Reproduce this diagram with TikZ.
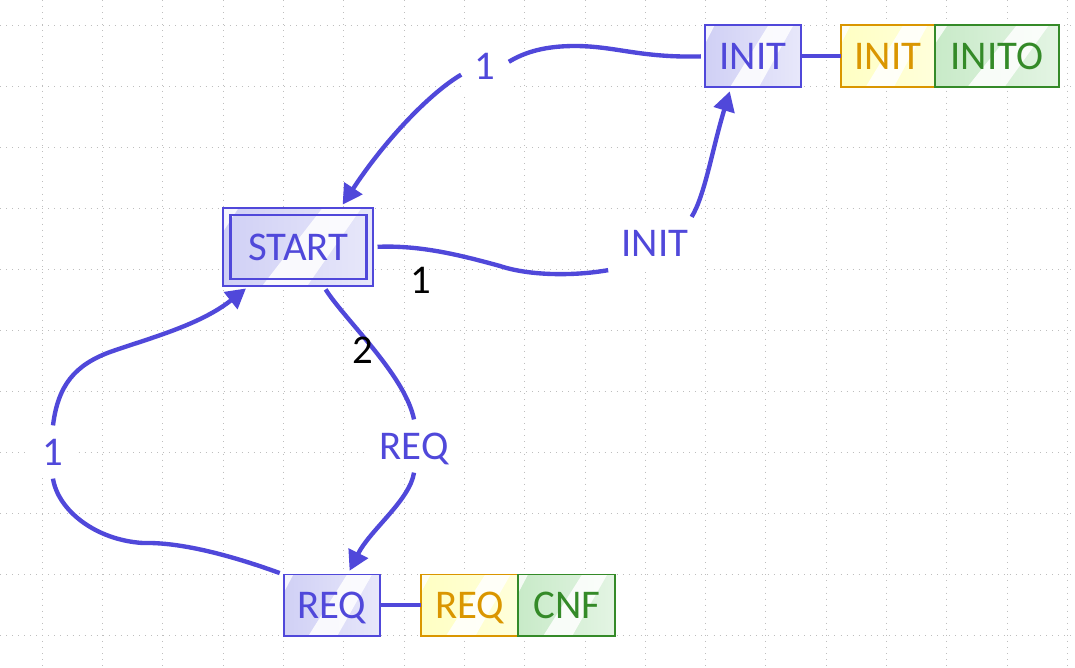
\documentclass[tikz,border=0pt]{standalone}
\usepackage{fontspec}
\setmainfont{Carlito}
\usetikzlibrary{arrows.meta, positioning, calc}
\definecolor{nodeblue}{RGB}{80, 72, 218}
\definecolor{fillblue}{RGB}{208, 208, 245}
\definecolor{nodeyellow}{RGB}{218, 150, 0}
\definecolor{fillyellow}{RGB}{255, 255, 195}
\definecolor{nodegreen}{RGB}{52, 138, 40}
\definecolor{fillgreen}{RGB}{200, 234, 200}
\definecolor{gridgray}{RGB}{190, 190, 190}
\newcommand{\boxfont}{\fontsize{29}{33}\selectfont}

\tikzset{
    gloss/.style={path picture={
        \fill[white, opacity=.85]
            ($(path picture bounding box.south west)!.26!(path picture bounding box.south east)$) --
            ($(path picture bounding box.north west)!.66!(path picture bounding box.north east)$) --
            ($(path picture bounding box.north west)!.92!(path picture bounding box.north east)$) --
            ($(path picture bounding box.south west)!.56!(path picture bounding box.south east)$) -- cycle;
        \fill[white, opacity=.8]
            (path picture bounding box.north west) --
            ($(path picture bounding box.north west)!.1!(path picture bounding box.north east)$) --
            ($(path picture bounding box.north west)!.3!(path picture bounding box.south west)$) -- cycle;
    }}
}

\begin{document}
\begin{tikzpicture}[
    x=0.025cm, y=-0.025cm,
    % Styles
    gridline/.style={gridgray, line width=0.7pt, dash pattern=on 0.7pt off 3.6pt},
    boxbase/.style={line width=1.4pt, inner sep=0pt, outer sep=0pt, minimum width=2.4cm, minimum height=1.55cm, font=\boxfont, text height=18.7pt, text depth=0pt, gloss},
    bluebox/.style={boxbase, draw=nodeblue, text=nodeblue, left color=fillblue, right color=fillblue!50},
    yellowbox/.style={boxbase, draw=nodeyellow, text=nodeyellow, left color=fillyellow, right color=fillyellow!60},
    greenbox/.style={boxbase, draw=nodegreen, text=nodegreen, left color=fillgreen, right color=fillgreen!50},
    lbl/.style={fill=white, text=nodeblue, font=\boxfont, inner sep=0.33cm, text height=18.7pt, text depth=0pt},
    order/.style={text=black, font=\boxfont, inner sep=0pt},
    conn/.style={draw=nodeblue, line width=3.1pt},
    tip/.style={-{Triangle[length=14pt, width=15pt]}, shorten >=3pt},
    gap/.style={shorten <=3pt}
]

    % Background and grid
    \fill[white] (0,0) rectangle (1075,667);
    \useasboundingbox (0,0) rectangle (1075,667);
    \foreach \gx in {0,...,17}
        \draw[gridline] ({42.3+60.3*\gx},0) -- ({42.3+60.3*\gx},667);
    \foreach \gy in {0,...,10}
        \draw[gridline] (0,{25+61*\gy}) -- (1075,{25+61*\gy});

    % States
    \node (start) [bluebox, minimum width=3.75cm, minimum height=1.94cm] at (298.3,247) {START};
    \draw[nodeblue, line width=1.8pt] ([shift={(0.175cm,0.175cm)}]start.south west) rectangle ([shift={(-0.175cm,-0.175cm)}]start.north east);

    \node (init) [bluebox] at (753,56.3) {INIT};
    \node (initP) [yellowbox, right=1cm of init, minimum width=2.35cm] {INIT};
    \node (initO) [greenbox, right=0pt of initP, minimum width=3.09cm] {INITO};

    \node (req) [bluebox, minimum height=1.525cm] at (331.7,605) {REQ};
    \node (reqP) [yellowbox, right=1.03cm of req, minimum width=2.435cm, minimum height=1.525cm] {REQ};
    \node (reqC) [greenbox, right=0pt of reqP, minimum width=2.415cm, minimum height=1.525cm] {CNF};

    \draw[conn] (init.east) -- (initP.west);
    \draw[conn] (req.east) -- (reqP.west);

    % Transition labels
    \node (lInitStart) [lbl] at (485,66) {1};
    \node (lStartInit) [lbl] at (655,243.5) {INIT};
    \node (lStartReq) [lbl] at (414,446) {REQ};
    \node (lReqStart) [lbl] at (53,452) {1};

    % Transitions
    \draw[conn, gap] (init.west) .. controls (640,58) and (615,46) .. (575,46)
        .. controls (545,46) and (525,52) .. (lInitStart.10);
    \draw[conn, tip] (lInitStart.200) .. controls (430,93) and (385,140) .. ([xshift=1.05cm]start.north);

    \draw[conn, gap] (start.east) .. controls (420,245) and (460,255) .. (500,266)
        .. controls (530,276) and (575,276) .. (lStartInit.south west);
    \draw[conn, tip] (lStartInit.36) .. controls (705,195) and (712,150) .. ([xshift=-0.55cm]init.south);

    \draw[conn, gap] ([xshift=0.625cm]start.south) .. controls (345,320) and (405,375) .. (lStartReq.north);
    \draw[conn, tip] (lStartReq.south) .. controls (410,500) and (370,530) .. ([xshift=0.4cm]req.north);

    \draw[conn, gap] (req.north west) .. controls (230,555) and (180,542) .. (143,543)
        .. controls (95,540) and (58,510) .. (lReqStart.south);
    \draw[conn, tip] (lReqStart.north) .. controls (58,385) and (75,365) .. (110,352)
        .. controls (150,338) and (200,325) .. ([xshift=-1.225cm]start.south);

    % Order numbers
    \node (ordInit) [order] at (421,280) {1};
    \node (ordReq) [order] at (363,350) {2};

\end{tikzpicture}
\end{document}
